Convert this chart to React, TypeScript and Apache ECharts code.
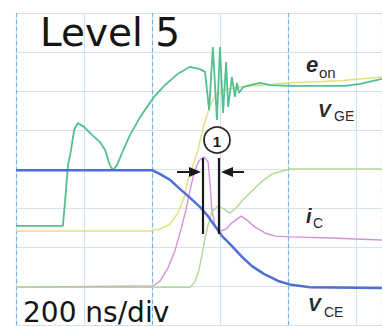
import React, { useEffect, useRef } from "react";
import * as echarts from "echarts";

// time in ns (200 ns per division), value in divisions
const vGE: [number, number][] = [
  [0, 2.54], [138, 2.54], [147, 3.46], [153, 4.1], [162, 4.49], [171, 5.0], [182, 5.18], [200, 5.08],
  [224, 4.87], [247, 4.69], [262, 4.49], [276, 4.1], [285, 3.97], [297, 4.1], [312, 4.41], [335, 4.87],
  [365, 5.33], [406, 5.85], [438, 6.15], [476, 6.44], [512, 6.62], [541, 6.56], [556, 6.49], [568, 5.51],
  [579, 7.13], [591, 5.26], [600, 7.13], [609, 5.44], [618, 6.74], [624, 5.59], [635, 6.36], [644, 5.85],
  [650, 6.21], [656, 5.95], [668, 6.1], [688, 6.15], [718, 6.21], [747, 6.15], [806, 6.13], [894, 6.13],
  [968, 6.13], [1012, 6.18], [1076, 6.31],
];
const eOn: [number, number][] = [
  [0, 2.41], [394, 2.41], [424, 2.46], [453, 2.59], [476, 2.87], [494, 3.26], [506, 3.72], [521, 4.1],
  [535, 4.49], [553, 5.13], [571, 5.64], [588, 5.9], [612, 6.03], [659, 6.1], [718, 6.15], [806, 6.21],
  [953, 6.26], [1076, 6.36],
];
const lightTrace: [number, number][] = [
  [0, 0.97], [512, 0.97], [526, 1.1], [538, 1.41], [547, 1.79], [556, 2.23], [565, 2.56], [576, 2.9],
  [594, 3.05], [612, 2.97], [629, 2.87], [647, 3.0], [668, 3.21], [697, 3.46], [724, 3.69], [753, 3.87],
  [806, 4.0], [1076, 4.0],
];
const iC: [number, number][] = [
  [0, 0.97], [403, 1.0], [424, 1.13], [447, 1.46], [468, 1.92], [485, 2.44], [500, 2.95], [512, 3.46],
  [524, 3.92], [538, 4.21], [553, 4.31], [565, 4.18], [571, 3.59], [576, 2.95], [585, 2.56], [600, 2.41],
  [618, 2.46], [635, 2.62], [662, 2.79], [682, 2.67], [703, 2.51], [732, 2.36], [762, 2.28], [809, 2.26],
  [924, 2.23], [1076, 2.18],
];
const vCE: [number, number][] = [
  [0, 3.97], [400, 3.97], [424, 3.87], [453, 3.72], [482, 3.49], [512, 3.26], [541, 3.03], [562, 2.82],
  [585, 2.54], [606, 2.28], [629, 2.08], [662, 1.77], [694, 1.51], [729, 1.31], [771, 1.13], [809, 1.03],
  [865, 0.97], [1076, 0.95],
];

const title = "Level 5";
const timebase = "200 ns/div";

export default function App() {
  const ref = useRef<HTMLDivElement>(null);
  useEffect(() => {
    if (!ref.current) return;
    const chart = echarts.init(ref.current, null, { renderer: "svg" });
    const xMax = (366 * 200) / 68;
    const lbl = (x: number, y: number, text: string, size: number, weight = "normal", italic = true) => ({
      type: "text",
      x,
      y,
      z: 100,
      style: {
        text,
        fill: "#2b2b2b",
        font: `${italic ? "italic " : ""}${weight} ${size}px "Liberation Sans", Arial, sans-serif`,
        verticalAlign: "middle",
        align: "left",
      },
    });
    const line = (s: string, data: [number, number][], color: string, width: number, z: number) => ({
      type: "line",
      name: s,
      data,
      showSymbol: false,
      symbol: "none",
      z,
      lineStyle: { color, width },
      silent: true,
    });
    chart.setOption({
      animation: false,
      grid: { left: 16, right: 0, top: 13, bottom: 2 },
      xAxis: [
        {
          type: "value", min: 0, max: xMax, interval: 200,
          axisLine: { show: false }, axisTick: { show: false }, axisLabel: { show: false },
          splitLine: { show: true, lineStyle: { color: "#cfe1ef", width: 1 } },
        },
        {
          type: "value", min: 0, max: xMax, interval: 400,
          axisLine: { show: false }, axisTick: { show: false }, axisLabel: { show: false },
          splitLine: { show: true, lineStyle: { color: "#78b0dc", width: 1.2, type: [4, 3] } },
        },
      ],
      yAxis: {
        type: "value", min: 0, max: 8, interval: 1,
        axisLine: { show: false }, axisTick: { show: false }, axisLabel: { show: false },
        splitLine: { show: true, lineStyle: { color: "#d5e3ee", width: 1 } },
      },
      series: [
        line("iC", iC, "#d693d9", 1.4, 2),
        line("light", lightTrace, "#b3db98", 1.5, 3),
        line("eon", eOn, "#dfe27f", 1.5, 4),
        line("vge", vGE, "#55bf8f", 1.8, 5),
        line("vce", vCE, "#4e6fd4", 2.5, 6),
      ],
      graphic: [
        { type: "line", z: 50, shape: { x1: 203, y1: 158, x2: 203, y2: 234 }, style: { stroke: "#1a1a1a", lineWidth: 2.2 } },
        { type: "line", z: 50, shape: { x1: 219, y1: 158, x2: 219, y2: 234 }, style: { stroke: "#1a1a1a", lineWidth: 2.2 } },
        { type: "line", z: 50, shape: { x1: 177, y1: 172, x2: 194, y2: 172 }, style: { stroke: "#1a1a1a", lineWidth: 2 } },
        { type: "polygon", z: 50, shape: { points: [[201, 172], [189, 167], [189, 177]] }, style: { fill: "#1a1a1a" } },
        { type: "line", z: 50, shape: { x1: 228, y1: 172, x2: 244, y2: 172 }, style: { stroke: "#1a1a1a", lineWidth: 2 } },
        { type: "polygon", z: 50, shape: { points: [[221, 172], [233, 167], [233, 177]] }, style: { fill: "#1a1a1a" } },
        { type: "circle", z: 50, shape: { cx: 217, cy: 140, r: 13 }, style: { fill: "#ffffff", stroke: "#2b2b2b", lineWidth: 1.8 } },
        {
          type: "text", z: 51, x: 217, y: 141,
          style: { text: "1", fill: "#1a1a1a", font: 'bold 15px "Liberation Sans", Arial, sans-serif', align: "center", verticalAlign: "middle" },
        },
        {
          type: "text", z: 100, x: 40, y: 32,
          style: { text: title, fill: "#151515", font: '39px "DejaVu Sans", Verdana, sans-serif', align: "left", verticalAlign: "middle" },
        },
        {
          type: "text", z: 100, x: 23, y: 312,
          style: { text: timebase, fill: "#151515", font: '28px "DejaVu Sans", Verdana, sans-serif', align: "left", verticalAlign: "middle" },
        },
        lbl(306, 64, "e", 22, "bold"),
        lbl(319, 72, "on", 15, "normal", false),
        lbl(318, 110, "V", 19, "bold"),
        lbl(334, 116, "GE", 14, "normal", false),
        lbl(306, 216, "i", 20, "bold"),
        lbl(313, 223, "C", 14, "normal", false),
        lbl(308, 304, "V", 19, "bold"),
        lbl(324, 312, "CE", 14, "normal", false),
      ],
    });
    return () => chart.dispose();
  }, []);
  return <div ref={ref} style={{ position: "absolute", left: 0, top: 0, width: 382, height: 327 }} />;
}
